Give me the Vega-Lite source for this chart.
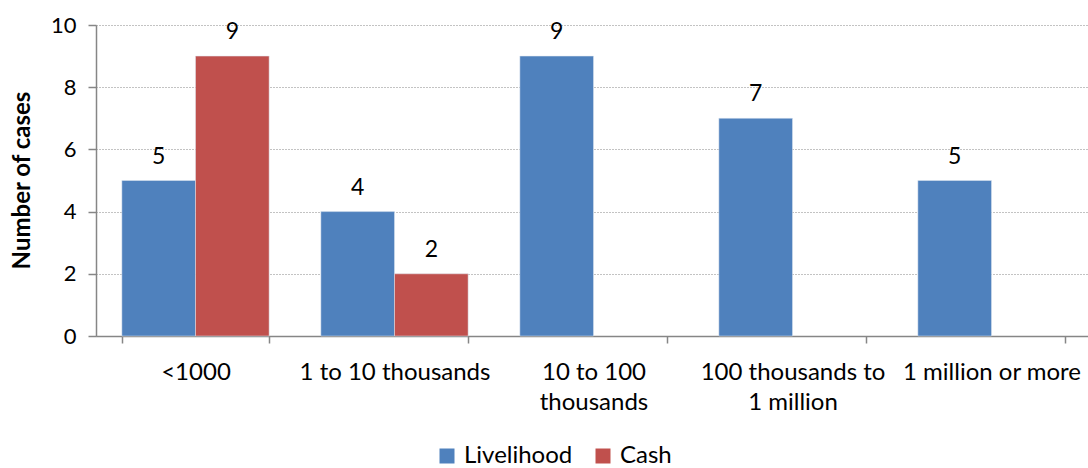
{
  "$schema": "https://vega.github.io/schema/vega-lite/v6.json",
  "width": 995,
  "height": 311,
  "autosize": "none",
  "padding": {"left": 96, "top": 25, "right": 0, "bottom": 132},
  "config": {
    "font": "Lato",
    "view": {"stroke": null}
  },
  "data": {
    "values": [
      {"range": "<1000", "fund": "Livelihood", "cases": 5},
      {"range": "<1000", "fund": "Cash", "cases": 9},
      {"range": "1 to 10 thousands", "fund": "Livelihood", "cases": 4},
      {"range": "1 to 10 thousands", "fund": "Cash", "cases": 2},
      {"range": "10 to 100 thousands", "fund": "Livelihood", "cases": 9},
      {"range": "100 thousands to 1 million", "fund": "Livelihood", "cases": 7},
      {"range": "1 million or more", "fund": "Livelihood", "cases": 5}
    ]
  },
  "encoding": {
    "x": {
      "field": "range",
      "type": "nominal",
      "sort": ["<1000", "1 to 10 thousands", "10 to 100 thousands", "100 thousands to 1 million", "1 million or more"],
      "scale": {"paddingInner": 0.26, "paddingOuter": 0.13},
      "axis": {
        "title": null,
        "labelAngle": 0,
        "labelFontSize": 24,
        "labelColor": "black",
        "labelLimit": 400,
        "labelOverlap": false,
        "labelPadding": 17,
        "labelLineHeight": 30,
        "labelExpr": "datum.value == '10 to 100 thousands' ? ['10 to 100', 'thousands'] : datum.value == '100 thousands to 1 million' ? ['100 thousands to', '1 million'] : datum.value",
        "tickBand": "extent",
        "tickSize": 7,
        "tickColor": "#868686",
        "tickWidth": 1.5,
        "domainColor": "#868686",
        "domainWidth": 1.5,
        "grid": false
      }
    },
    "xOffset": {
      "field": "fund",
      "type": "nominal",
      "scale": {"domain": ["Livelihood", "Cash"], "paddingInner": 0, "paddingOuter": 0}
    },
    "y": {
      "field": "cases",
      "type": "quantitative",
      "scale": {"domain": [0, 10]},
      "axis": {
        "title": "Number of cases",
        "titleFontSize": 24,
        "titleFontWeight": "bold",
        "titleColor": "black",
        "titleX": -74,
        "titleY": 155,
        "titleAlign": "center",
        "titleBaseline": "middle",
        "values": [0, 2, 4, 6, 8, 10],
        "labelFontSize": 22,
        "labelColor": "black",
        "labelPadding": 12,
        "tickSize": 8,
        "tickColor": "#868686",
        "tickWidth": 1.5,
        "domainColor": "#868686",
        "domainWidth": 1.5,
        "gridColor": "#868686",
        "gridDash": [1, 2],
        "gridWidth": 1
      }
    }
  },
  "layer": [
    {
      "mark": {"type": "bar", "stroke": "#dfe6f0", "strokeWidth": 0.5},
      "encoding": {
        "color": {
          "field": "fund",
          "type": "nominal",
          "scale": {"domain": ["Livelihood", "Cash"], "range": ["#4F81BD", "#C0504D"]},
          "legend": {
            "orient": "none",
            "legendX": 339,
            "legendY": 419,
            "direction": "horizontal",
            "title": null,
            "symbolType": "square",
            "symbolSize": 225,
            "symbolStrokeWidth": 0,
            "labelFontSize": 24,
            "labelColor": "black",
            "labelOffset": 5,
            "columnPadding": 18
          }
        }
      }
    },
    {
      "mark": {"type": "text", "baseline": "bottom", "dy": -12, "fontSize": 23, "color": "black"},
      "encoding": {"text": {"field": "cases", "type": "quantitative"}}
    }
  ]
}
